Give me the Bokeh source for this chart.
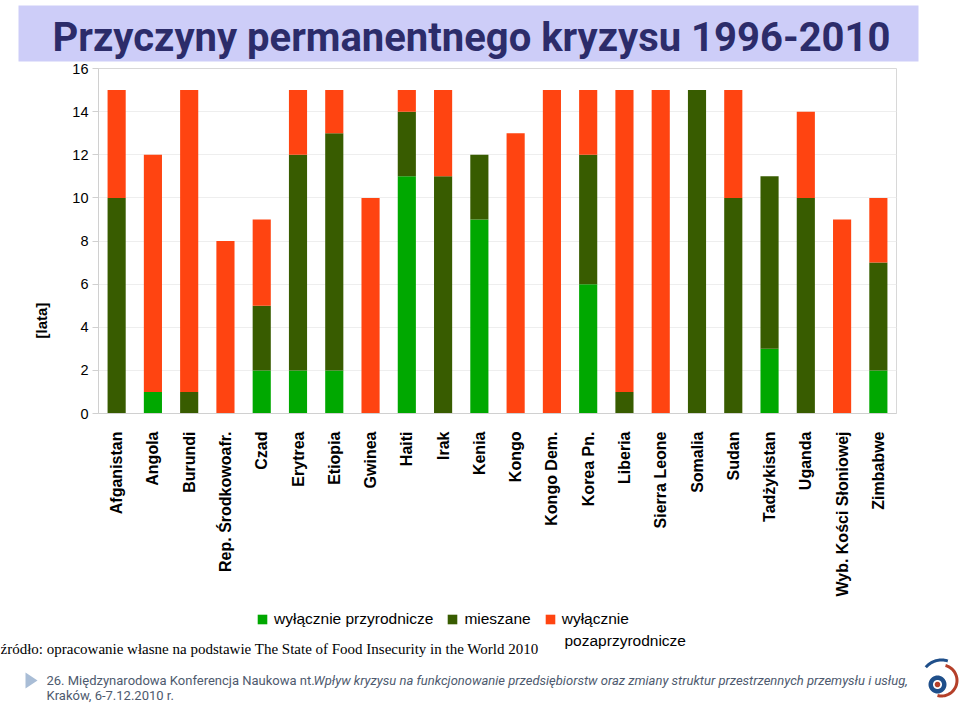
import math
from bokeh.plotting import figure
from bokeh.layouts import column
from bokeh.models import (FactorRange, Range1d, FixedTicker, Label, Legend, LegendItem,
                          ColumnDataSource, Title)
from bokeh.embed import file_html
from bokeh.resources import INLINE

countries = ["Afganistan", "Angola", "Burundi", "Rep. Środkowoafr.", "Czad", "Erytrea",
             "Etiopia", "Gwinea", "Haiti", "Irak", "Kenia", "Kongo", "Kongo Dem.",
             "Korea Pn.", "Liberia", "Sierra Leone", "Somalia", "Sudan", "Tadżykistan",
             "Uganda", "Wyb. Kości Słoniowej", "Zimbabwe"]
natural    = [0, 1, 0, 0, 2, 2, 2, 0, 11, 0, 9, 0, 0, 6, 0, 0, 0, 0, 3, 0, 0, 2]
mixed      = [10, 0, 1, 0, 3, 10, 11, 0, 3, 11, 3, 0, 0, 6, 1, 0, 15, 10, 8, 10, 0, 5]
nonnatural = [5, 11, 14, 8, 4, 3, 2, 10, 1, 4, 0, 13, 15, 3, 14, 15, 0, 5, 0, 4, 9, 3]
series_keys = ["natural", "mixed", "nonnatural"]
series_labels = ["wyłącznie przyrodnicze", "mieszane", "wyłącznie"]
series_label_cont = "pozaprzyrodnicze"
series_colors = ["#00a800", "#385c00", "#ff4411"]
y_ticks = [0, 2, 4, 6, 8, 10, 12, 14, 16]

title_text = "Przyczyny permanentnego kryzysu 1996-2010"
y_label = "[lata]"
source_text = "źródło: opracowanie własne na podstawie The State of Food Insecurity in the World 2010"
footer_a = "26. Międzynarodowa Konferencja Naukowa  nt."
footer_b = ("Wpływ kryzysu na funkcjonowanie przedsiębiorstw oraz zmiany struktur "
            "przestrzennych przemysłu i usług,")
footer_c = "Kraków, 6-7.12.2010 r."

W = 960
TOP_H, MAIN_H, BOT_H = 62, 543, 99


def deco_fig(h, y0):
    f = figure(width=W, height=h, x_range=Range1d(0, W), y_range=Range1d(y0 + h, y0),
               output_backend="svg", toolbar_location=None, min_border=0,
               x_axis_location=None, y_axis_location=None, outline_line_color=None,
               background_fill_color="white", border_fill_color="white",
               frame_align=False)
    f.grid.grid_line_color = None
    return f


# ---- title strip
top = deco_fig(TOP_H, 0)
top.quad(left=18, right=918, top=5, bottom=61, fill_color="#cdcdf8", line_color=None)
top.add_layout(Label(x=471, y=37, text=title_text, text_align="center",
                     text_baseline="middle", text_font="Roboto", text_font_style="bold",
                     text_font_size="40px", text_color="#2c2c6a"))

# ---- main chart
src = ColumnDataSource(dict(country=countries, natural=natural, mixed=mixed,
                            nonnatural=nonnatural))
p = figure(width=W, height=MAIN_H, x_range=FactorRange(*countries, range_padding=0),
           y_range=Range1d(0, 16), output_backend="svg", toolbar_location=None,
           min_border_left=98, min_border_right=64, min_border_top=6,
           min_border_bottom=192, background_fill_color="white",
           border_fill_color="white", frame_align=False)
rs = p.vbar_stack(series_keys, x="country", width=0.5, color=series_colors,
                  line_color=None, source=src)

p.outline_line_color = "#d8d8d8"
p.xgrid.grid_line_color = None
p.ygrid.grid_line_color = "#eeeeee"
p.yaxis.ticker = FixedTicker(ticks=y_ticks)
p.yaxis.axis_line_color = "#d0d0d0"
p.yaxis.major_tick_line_color = "#d0d0d0"
p.yaxis.major_tick_out = 6
p.yaxis.major_tick_in = 0
p.yaxis.minor_tick_line_color = None
p.yaxis.major_label_standoff = 4
p.yaxis.major_label_text_font = "Liberation Sans"
p.yaxis.major_label_text_font_size = "14.5px"
p.yaxis.major_label_text_color = "black"

p.xaxis.axis_line_color = "#d0d0d0"
p.xaxis.major_tick_line_color = None
p.xaxis.major_label_orientation = math.pi / 2
p.xaxis.major_label_standoff = 12
p.xaxis.major_label_text_font = "Liberation Sans"
p.xaxis.major_label_text_font_style = "bold"
p.xaxis.major_label_text_font_size = "16px"
p.xaxis.major_label_text_color = "black"

p.add_layout(Title(text=y_label, align="left", offset=75, standoff=39,
                   text_font="Liberation Sans", text_font_style="bold",
                   text_font_size="15px", text_color="black"), "left")

# ---- bottom strip: legend, source, footer
bot = deco_fig(BOT_H, TOP_H + MAIN_H)
nan = float("nan")
proxies = [bot.vbar(x=[nan], top=[nan], width=1, fill_color=c, line_color=None)
           for c in series_colors]
legend = Legend(items=[LegendItem(label=lab, renderers=[r])
                       for lab, r in zip(series_labels, proxies)],
                orientation="horizontal", location=(256, 75),
                border_line_alpha=0, background_fill_alpha=0, padding=0, margin=0,
                spacing=13, label_standoff=6, glyph_width=12, glyph_height=12,
                label_height=20, label_text_font="Liberation Sans",
                label_text_font_size="15.5px", label_text_color="black")
bot.add_layout(legend)
bot.add_layout(Label(x=564, y=640, text=series_label_cont, text_align="left",
                     text_baseline="middle", text_font="Liberation Sans",
                     text_font_size="15.5px", text_color="black"))

bot.add_layout(Label(x=0, y=648, text=source_text, text_align="left",
                     text_baseline="middle", text_font="Liberation Serif",
                     text_font_size="15px", text_color="black"))

bot.patch(x=[25, 25, 37], y=[672, 688, 680], fill_color="#a9bdd6", line_color=None)
for txt, px, py, style in [(footer_a, 46, 680, "normal"), (footer_b, 313, 680, "italic"),
                           (footer_c, 46, 695, "normal")]:
    bot.add_layout(Label(x=px, y=py, text=txt, text_align="left", text_baseline="middle",
                         text_font="Roboto", text_font_style=style,
                         text_font_size="13px", text_color="#4e5a6e"))


def arc_pts(cx, cy, r0, r1, a0, a1, n=40):
    outer = [(cx + r1 * math.cos(math.radians(a0 + (a1 - a0) * i / n)),
              cy - r1 * math.sin(math.radians(a0 + (a1 - a0) * i / n))) for i in range(n + 1)]
    inner = [(cx + r0 * math.cos(math.radians(a1 - (a1 - a0) * i / n)),
              cy - r0 * math.sin(math.radians(a1 - (a1 - a0) * i / n))) for i in range(n + 1)]
    pts = outer + inner
    return [x for x, _ in pts], [y for _, y in pts]


for (cx, cy, r0, r1, a0, a1, col) in [
        (937, 684, 0, 9, 0, 360, "#1f4f8a"),
        (937, 684, 0, 4.5, 0, 360, "white"),
        (937, 684, 0, 2.8, 0, 360, "#b5402a"),
        (941, 680, 14, 17, 75, -105, "#b5402a"),
        (941, 680, 19, 22, 72, 140, "#1f4f8a")]:
    xs, ys = arc_pts(cx, cy, r0, r1, a0, a1)
    bot.patch(x=xs, y=ys, fill_color=col, line_color=None)

open("out.html", "w").write(file_html(column(top, p, bot, spacing=0), INLINE))
